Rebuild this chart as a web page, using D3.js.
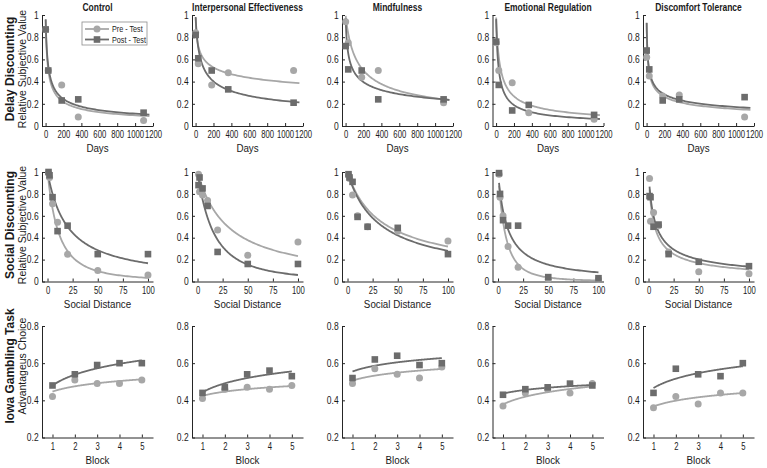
<!DOCTYPE html>
<html>
<head>
<meta charset="utf-8">
<script src="https://cdn.jsdelivr.net/npm/d3@7"></script>
<style>
  body { margin: 0; background: #fff; }
  text { font-family: "Liberation Sans", Arial, sans-serif; fill: #1a1a1a; }
</style>
</head>
<body>
<svg id="chart" width="767" height="468"></svg>
<script>
// Panel titles (columns)
const conditions = ["Control", "Interpersonal Effectiveness", "Mindfulness", "Emotional Regulation", "Discomfort Tolerance"];

// Delay discounting: delays in days, relative subjective value per condition
const delays = [1, 30, 180, 365, 1095];
const delayPre = [
  [0.87, 0.50, 0.37, 0.08, 0.05],
  [0.84, 0.56, 0.37, 0.48, 0.50],
  [0.94, 0.75, 0.44, 0.50, 0.21],
  [0.75, 0.50, 0.39, 0.12, 0.06],
  [0.62, 0.45, 0.27, 0.28, 0.08]
];
const delayPost = [
  [0.87, 0.50, 0.23, 0.24, 0.12],
  [0.82, 0.61, 0.50, 0.33, 0.21],
  [0.72, 0.51, 0.50, 0.24, 0.24],
  [0.76, 0.37, 0.14, 0.19, 0.10],
  [0.68, 0.51, 0.23, 0.24, 0.26]
];
// hyperboloid fit parameters [k, s] : V = 1 / (1 + k*D)^s
const delayFitPre  = [[0.09, 0.52], [0.17, 0.18], [0.015, 0.5], [0.04, 0.6], [0.25, 0.34]];
const delayFitPost = [[0.08, 0.50], [0.05, 0.38], [0.105, 0.3], [0.06, 0.65], [0.25, 0.32]];

// Social discounting: social distance, relative subjective value
const socialDistances = [1, 2, 5, 10, 20, 50, 100];
const socialPre = [
  [0.99, 0.95, 0.71, 0.54, 0.25, 0.10, 0.06],
  [0.98, 0.82, 0.79, 0.74, 0.47, 0.24, 0.36],
  [0.97, 0.94, 0.79, 0.60, 0.50, 0.46, 0.37],
  [0.98, 0.77, 0.60, 0.32, 0.13, 0.02, 0.02],
  [0.94, 0.55, 0.63, 0.51, 0.27, 0.09, 0.07]
];
const socialPost = [
  [1.00, 0.97, 0.77, 0.46, 0.51, 0.25, 0.25],
  [0.88, 0.95, 0.85, 0.69, 0.27, 0.16, 0.16],
  [0.98, 0.95, 0.91, 0.59, 0.50, 0.49, 0.25],
  [0.99, 0.80, 0.56, 0.51, 0.51, 0.04, 0.03],
  [0.78, 0.77, 0.50, 0.52, 0.25, 0.18, 0.14]
];
const socialFitPre  = [[0.045, 2], [0.033, 1], [0.041, 0.7], [0.055, 2.5], [0.32, 0.63]];
const socialFitPost = [[0.05, 1], [0.031, 2], [0.039, 0.8], [0.11, 1], [0.27, 0.6]];

// Iowa Gambling Task: block, advantageous choice proportion
const blocks = [1, 2, 3, 4, 5];
const igtPre = [
  [0.42, 0.51, 0.49, 0.49, 0.51],
  [0.41, 0.46, 0.47, 0.46, 0.48],
  [0.49, 0.57, 0.54, 0.52, 0.58],
  [0.37, 0.44, 0.46, 0.44, 0.49],
  [0.36, 0.42, 0.38, 0.44, 0.44]
];
const igtPost = [
  [0.48, 0.54, 0.59, 0.60, 0.60],
  [0.44, 0.47, 0.54, 0.56, 0.53],
  [0.52, 0.62, 0.64, 0.59, 0.60],
  [0.43, 0.46, 0.47, 0.49, 0.48],
  [0.44, 0.57, 0.54, 0.53, 0.60]
];
// logarithmic fit parameters [a, b] : y = a + b*ln(block)
const igtFitPre  = [[0.447, 0.041], [0.424, 0.033], [0.506, 0.039], [0.378, 0.060], [0.367, 0.045]];
const igtFitPost = [[0.480, 0.084], [0.443, 0.070], [0.555, 0.045], [0.436, 0.029], [0.466, 0.073]];

// Tick values
const delayTicks = [0, 200, 400, 600, 800, 1000, 1200];
const socialTicks = [0, 25, 50, 75, 100];
const blockTicks = [1, 2, 3, 4, 5];
const valueTicks = [0, 0.2, 0.4, 0.6, 0.8, 1];
const igtTicks = [0.2, 0.4, 0.6, 0.8];

const seriesNames = ["Pre - Test", "Post - Test"];

// ---------------------------------------------------------------
const svg = d3.select("#chart");
const lightGray = "#a7a7a7";
const darkGray = "#6c6c6c";
const panelLefts = [42, 192, 342, 492.5, 643];
const panelWidth = 111;

const hyperboloid = p => d => 1 / Math.pow(1 + p[0] * d, p[1]);
const logFit = p => d => p[0] + p[1] * Math.log(d);

const rows = [
  {
    xDomain: [-40, 1200], yDomain: [0, 1], yRange: [126, 15],
    xTicks: delayTicks, yTicks: valueTicks, xLabel: "Days",
    xs: delays, pre: delayPre, post: delayPost,
    fitPre: delayFitPre, fitPost: delayFitPost, model: hyperboloid,
    curveFrom: 1, curveTo: 1160, logSample: true,
    label1: "Delay Discounting", label2: "Relative Subjective Value", labelY: 69
  },
  {
    xDomain: [-5.5, 105], yDomain: [0, 1], yRange: [281.5, 172],
    xTicks: socialTicks, yTicks: valueTicks, xLabel: "Social Distance",
    xs: socialDistances, pre: socialPre, post: socialPost,
    fitPre: socialFitPre, fitPost: socialFitPost, model: hyperboloid,
    curveFrom: 1, curveTo: 100, logSample: true,
    label1: "Social Discounting", label2: "Relative Subjective Value", labelY: 225
  },
  {
    xDomain: [0.53, 5.5], yDomain: [0.2, 0.8], yRange: [437.5, 326],
    xTicks: blockTicks, yTicks: igtTicks, xLabel: "Block",
    xs: blocks, pre: igtPre, post: igtPost,
    fitPre: igtFitPre, fitPost: igtFitPost, model: logFit,
    curveFrom: 1, curveTo: 5, logSample: false,
    label1: "Iowa Gambling Task", label2: "Advantageus Choice", labelY: 366
  }
];

const fmt = d3.format("~g");

rows.forEach((row, ri) => {
  // Row labels (rotated)
  svg.append("text")
    .attr("transform", `translate(13.5,${row.labelY}) rotate(-90)`)
    .attr("text-anchor", "middle")
    .style("font-size", "12px").style("font-weight", "bold")
    .text(row.label1);
  svg.append("text")
    .attr("transform", `translate(25.5,${row.labelY}) rotate(-90)`)
    .attr("text-anchor", "middle")
    .style("font-size", "10.5px")
    .text(row.label2);

  conditions.forEach((cond, ci) => {
    const left = panelLefts[ci];
    const x = d3.scaleLinear().domain(row.xDomain).range([left, left + panelWidth]);
    const y = d3.scaleLinear().domain(row.yDomain).range(row.yRange);
    const g = svg.append("g");

    // Axes (inward ticks, MATLAB style)
    const ax = g.append("g")
      .attr("transform", `translate(0,${row.yRange[0]})`)
      .call(d3.axisBottom(x).tickValues(row.xTicks).tickFormat(fmt)
        .tickSizeInner(-3).tickSizeOuter(0).tickPadding(5));
    const ay = g.append("g")
      .attr("transform", `translate(${left},0)`)
      .call(d3.axisLeft(y).tickValues(row.yTicks).tickFormat(fmt)
        .tickSizeInner(-3).tickSizeOuter(0).tickPadding(4));
    [ax, ay].forEach((a, k) => {
      a.select(".domain").attr("stroke", "#262626");
      a.selectAll(".tick line").attr("stroke", "#262626");
      a.selectAll("text").style("font-size", "10px")
        .style("font-family", "'Liberation Sans', Arial, sans-serif")
        .attr("fill", "#1a1a1a")
        .attr("transform", k === 0 ? "scale(0.77,1)" : "scale(0.85,1)");
    });

    // x label
    g.append("text")
      .attr("transform", `translate(${left + panelWidth / 2},${row.yRange[0] + 26}) scale(0.85,1)`)
      .attr("text-anchor", "middle")
      .style("font-size", "11.5px")
      .text(row.xLabel);

    // column title on first row
    if (ri === 0) {
      g.append("text")
        .attr("transform", `translate(${left + panelWidth / 2},11) scale(0.85,1)`)
        .attr("text-anchor", "middle")
        .style("font-size", "10px").style("font-weight", "bold")
        .text(cond);
    }

    // fitted curves
    const samples = d3.range(0, 1.0001, 0.005).map(t => row.logSample
      ? row.curveFrom * Math.pow(row.curveTo / row.curveFrom, t)
      : row.curveFrom + (row.curveTo - row.curveFrom) * t);
    const line = d3.line().x(d => x(d[0])).y(d => y(d[1]));
    [[row.fitPre[ci], lightGray], [row.fitPost[ci], darkGray]].forEach(([p, col]) => {
      const f = row.model(p);
      g.append("path")
        .datum(samples.map(d => [d, f(d)]))
        .attr("fill", "none").attr("stroke", col).attr("stroke-width", 1.8)
        .attr("d", line);
    });

    // data markers: pre = circles, post = squares
    g.selectAll(".pre").data(row.pre[ci]).enter().append("circle")
      .attr("class", "pre")
      .attr("cx", (d, i) => x(row.xs[i]))
      .attr("cy", d => y(d))
      .attr("r", 3.5)
      .attr("fill", lightGray);
    g.selectAll(".post").data(row.post[ci]).enter().append("rect")
      .attr("class", "post")
      .attr("x", (d, i) => x(row.xs[i]) - 3.3)
      .attr("y", d => y(d) - 3.3)
      .attr("width", 6.6).attr("height", 6.6)
      .attr("fill", darkGray);
  });
});

// Legend (Control, delay discounting panel)
const legend = svg.append("g").attr("transform", "translate(82,22)");
legend.append("rect")
  .attr("width", 65).attr("height", 23)
  .attr("fill", "#fff").attr("stroke", "#8c8c8c").attr("stroke-width", 0.8);
seriesNames.forEach((name, i) => {
  const ly = 7 + i * 10.5;
  const col = i === 0 ? lightGray : darkGray;
  legend.append("line")
    .attr("x1", 3).attr("x2", 27).attr("y1", ly).attr("y2", ly)
    .attr("stroke", col).attr("stroke-width", 1.8);
  if (i === 0) {
    legend.append("circle").attr("cx", 15).attr("cy", ly).attr("r", 3.5).attr("fill", col);
  } else {
    legend.append("rect").attr("x", 11.7).attr("y", ly - 3.3)
      .attr("width", 6.6).attr("height", 6.6).attr("fill", col);
  }
  legend.append("text")
    .attr("transform", `translate(30,${ly + 3}) scale(0.85,1)`)
    .style("font-size", "8.5px")
    .text(name);
});
</script>
</body>
</html>
